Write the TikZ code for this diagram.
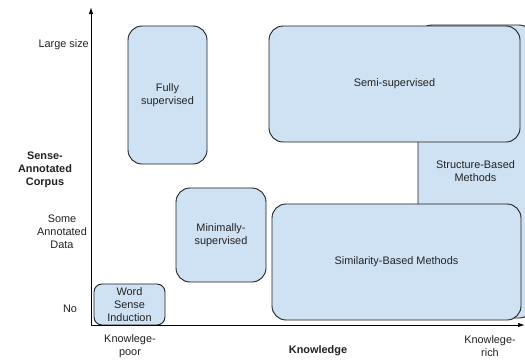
\documentclass[tikz,border=0pt]{standalone}
\usepackage{fontspec}
\setmainfont{Liberation Sans}
\usetikzlibrary{arrows.meta}
\definecolor{boxblue}{HTML}{CFE2F3}
\definecolor{boxline}{HTML}{1F1F1F}
\definecolor{txt}{HTML}{222222}
\tikzset{
  box/.style={draw=boxline, fill=boxblue, rounded corners=14pt, line width=0.9pt,
    align=center, inner sep=0pt, text=txt, font=\fontsize{10.9}{12.9}\selectfont},
  lbl/.style={align=center, inner sep=0pt, text=txt, font=\fontsize{10.9}{12.9}\selectfont},
  blbl/.style={lbl, font=\fontsize{10.9}{12.9}\selectfont\bfseries},
  axis/.style={line width=1pt, -{Latex[length=7pt,width=4.5pt]}}
}
\begin{document}
\begin{tikzpicture}[x=1pt,y=-1pt]
\useasboundingbox (0,0) rectangle (525,360);
\clip (0,0) rectangle (525,360);
\fill[white] (0,0) rectangle (525,360);
% boxes
\node[box, minimum width=115pt, minimum height=293pt] (struct) at (475.5,171.5) {Structure-Based\\Methods};
\node[box, minimum width=79pt, minimum height=138pt] (fully) at (167.5,95) {Fully\\supervised};
\node[box, minimum width=251pt, minimum height=116pt] (semi) at (394.5,84) {Semi-supervised};
\node[box, minimum width=90pt, minimum height=94pt] (minimal) at (221,235) {Minimally-\\supervised};
\node[box, minimum width=249pt, minimum height=116pt] (simil) at (396.5,262) {Similarity-Based Methods};
\node[box, rounded corners=8pt, minimum width=71pt, minimum height=41pt] (wsi) at (129.5,304.5) {Word\\Sense\\Induction};
% axes
\coordinate (o) at (91,325);
\coordinate (ytip) at (91,7);
\coordinate (xtip) at (525,325);
\draw[axis] (o) -- (ytip);
\draw[axis] (o) -- (xtip);
% labels
\node[lbl, anchor=east] (large) at (89,45) {Large size};
\node[blbl] (ylab) at (45,170) {Sense-\\Annotated\\Corpus};
\node[lbl] (some) at (62,232) {Some\\Annotated\\Data};
\node[lbl] (no) at (70,309) {No};
\node[lbl] (poor) at (130,346) {Knowlege-\\poor};
\node[blbl] (xlab) at (318,351) {Knowledge};
\node[lbl] (rich) at (490,346) {Knowlege-\\rich};
\end{tikzpicture}
\end{document}
